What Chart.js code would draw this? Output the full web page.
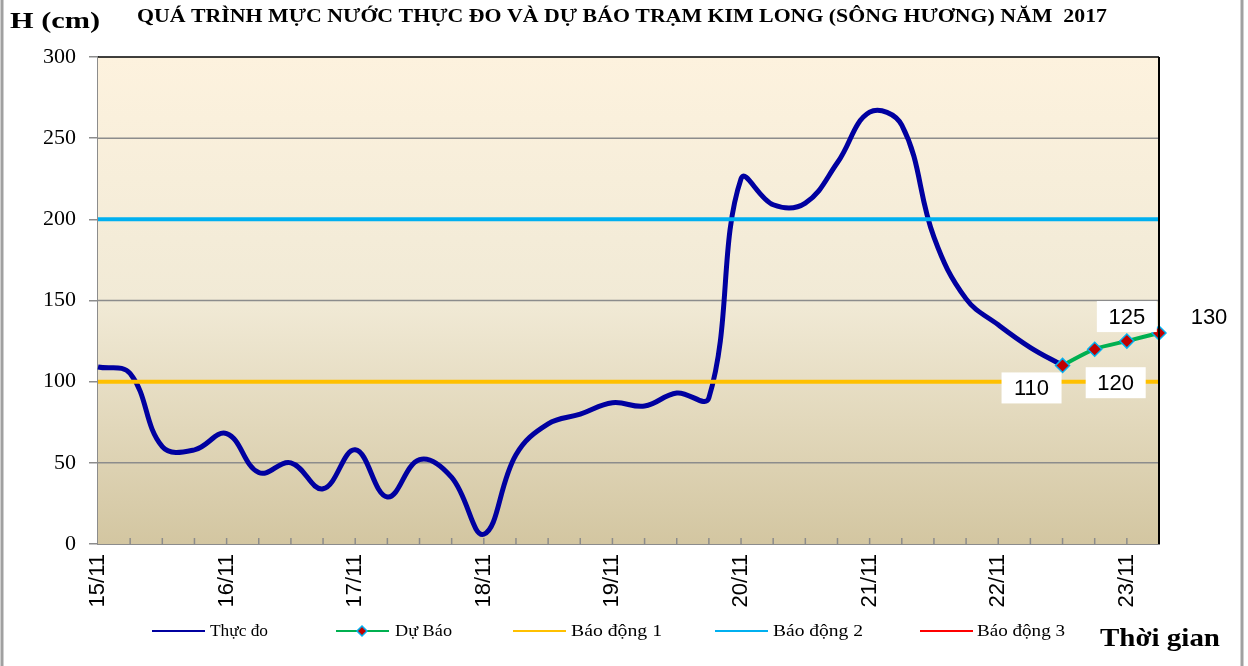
<!DOCTYPE html>
<html>
<head>
<meta charset="utf-8">
<script src="https://cdn.jsdelivr.net/npm/chart.js@4.4.1/dist/chart.umd.min.js"></script>
<style>
  html, body { margin: 0; padding: 0; background: #fff; }
  #wrap { width: 1248px; height: 666px; position: relative; }
</style>
</head>
<body>
<div id="wrap"><canvas id="canvas1" width="1248" height="666"></canvas></div>
<script>
// days shown on the time axis, one label every 4 steps (6h each)
let days = ['15/11', '16/11', '17/11', '18/11', '19/11', '20/11', '21/11', '22/11', '23/11'];
let hours = ['00h', '06h', '12h', '18h'];

// measured water level (cm), every 6h from 15/11 00h to 22/11 12h
let thucDo = [109, 105, 60, 58, 68, 44, 50, 34, 58, 29,
              52, 41, 6, 55, 74, 80, 87, 85, 93, 90,
              225, 209, 210, 235, 266, 258, 189, 151, 135, 121,
              110];
// forecast, 22/11 12h -> 23/11 06h
let duBao = [110, 120, 125, 130];
let baoDong1 = 100;
let baoDong2 = 200;

let labels = [];
days.forEach(function(d, i) {
  hours.forEach(function(h, j) {
    if (i < days.length - 1 || j < 2) labels.push(d + ' ' + h);
  });
});

let n = labels.length;
let thucDoData = labels.map(function(l, i) { return i < thucDo.length ? thucDo[i] : null; });
let duBaoStart = thucDo.length - 1;
let duBaoData = labels.map(function(l, i) {
  return (i >= duBaoStart && i - duBaoStart < duBao.length) ? duBao[i - duBaoStart] : null;
});
let bd1Data = labels.map(function() { return baoDong1; });
let bd2Data = labels.map(function() { return baoDong2; });
let bd3Data = labels.map(function() { return null; });

let legendItems = [
  { text: 'Thực đo', color: '#0000A0', x: 152, tx: 210, tw: 58 },
  { text: 'Dự Báo', color: '#00B050', x: 336, tx: 395, tw: 57, marker: true },
  { text: 'Báo động 1', color: '#FFC000', x: 513, tx: 571, tw: 91 },
  { text: 'Báo động 2', color: '#00B0F0', x: 715, tx: 773, tw: 90 },
  { text: 'Báo động 3', color: '#FF0000', x: 920, tx: 977, tw: 88 }
];

// offsets of the forecast value boxes from their points
let labelOffsets = [[-31, 23, true], [21, 34, true], [0, -24, true], [50, -16, false]];

function stretchText(ctx, text, x, y, width, align) {
  let w = ctx.measureText(text).width;
  let s = width / w;
  ctx.save();
  ctx.translate(x, y);
  ctx.scale(s, 1);
  ctx.textAlign = align || 'left';
  ctx.fillText(text, 0, 0);
  ctx.restore();
}

let decor = {
  id: 'decor',
  beforeDatasetsDraw: function(chart) {
    let ctx = chart.ctx, a = chart.chartArea;
    ctx.save();
    let g = ctx.createLinearGradient(0, a.top, 0, a.bottom);
    g.addColorStop(0, '#FDF2DE');
    g.addColorStop(0.5, '#F1EAD6');
    g.addColorStop(1, '#D3C6A1');
    ctx.fillStyle = g;
    ctx.fillRect(a.left, a.top, a.right - a.left, a.bottom - a.top);
    // grid lines redrawn over the fill
    let y = chart.scales.y;
    ctx.strokeStyle = '#8c8c8c';
    ctx.lineWidth = 1.5;
    [50, 150, 250].forEach(function(v) {
      let py = y.getPixelForValue(v);
      ctx.beginPath(); ctx.moveTo(a.left, py); ctx.lineTo(a.right, py); ctx.stroke();
    });
    ctx.restore();
  },
  afterDatasetsDraw: function(chart) {
    let ctx = chart.ctx, a = chart.chartArea;
    let xs = chart.scales.x;
    ctx.save();
    // inward tick marks on the time axis
    ctx.strokeStyle = '#8c8c8c';
    ctx.lineWidth = 1.5;
    for (let i = 1; i < n; i++) {
      let px = xs.getPixelForTick(i);
      ctx.beginPath(); ctx.moveTo(px, a.bottom - 6); ctx.lineTo(px, a.bottom); ctx.stroke();
    }
    // top and right border
    ctx.strokeStyle = '#000';
    ctx.lineWidth = 1.5;
    ctx.beginPath(); ctx.moveTo(a.left, a.top); ctx.lineTo(a.right, a.top); ctx.stroke();
    ctx.lineWidth = 2;
    ctx.beginPath(); ctx.moveTo(a.right, a.top); ctx.lineTo(a.right, a.bottom); ctx.stroke();

    // forecast value labels
    let meta = chart.getDatasetMeta(1);
    ctx.font = '22px "Liberation Sans", Arial, sans-serif';
    ctx.textBaseline = 'middle';
    ctx.textAlign = 'center';
    let k = 0;
    meta.data.forEach(function(pt, i) {
      if (duBaoData[i] === null) return;
      let o = labelOffsets[k++];
      let cx = pt.x + o[0], cy = pt.y + o[1];
      if (o[2]) {
        ctx.fillStyle = '#fff';
        ctx.fillRect(cx - 30, cy - 16, 60, 31);
      }
      ctx.fillStyle = '#000';
      ctx.fillText(String(duBaoData[i]), cx, cy + 1);
    });

    // titles
    ctx.textBaseline = 'middle';
    ctx.font = 'bold 18px "Liberation Serif", "Times New Roman", serif';
    stretchText(ctx, 'QUÁ TRÌNH MỰC NƯỚC THỰC ĐO VÀ DỰ BÁO TRẠM KIM LONG (SÔNG HƯƠNG) NĂM  2017', 137, 17, 970);
    ctx.font = 'bold 24px "Liberation Serif", "Times New Roman", serif';
    stretchText(ctx, 'H (cm)', 10, 22, 90);
    ctx.textBaseline = 'alphabetic';
    ctx.font = 'bold 25px "Liberation Serif", "Times New Roman", serif';
    stretchText(ctx, 'Thời gian', 1100, 646, 120);

    // legend
    ctx.textBaseline = 'middle';
    ctx.font = '16px "Liberation Serif", "Times New Roman", serif';
    legendItems.forEach(function(it) {
      ctx.strokeStyle = it.color;
      ctx.lineWidth = 2;
      ctx.beginPath(); ctx.moveTo(it.x, 631); ctx.lineTo(it.x + 53, 631); ctx.stroke();
      if (it.marker) {
        let mx = it.x + 26;
        ctx.fillStyle = '#C00000';
        ctx.strokeStyle = '#00B0F0';
        ctx.lineWidth = 1.5;
        ctx.beginPath();
        ctx.moveTo(mx, 626); ctx.lineTo(mx + 5, 631); ctx.lineTo(mx, 636); ctx.lineTo(mx - 5, 631);
        ctx.closePath(); ctx.fill(); ctx.stroke();
      }
      ctx.fillStyle = '#000';
      stretchText(ctx, it.text, it.tx, 632, it.tw);
    });

    // outer frame
    ctx.strokeStyle = '#a0a0a0';
    ctx.lineWidth = 3;
    ctx.beginPath(); ctx.moveTo(2, 0); ctx.lineTo(2, 666); ctx.stroke();
    ctx.beginPath(); ctx.moveTo(1242, 0); ctx.lineTo(1242, 666); ctx.stroke();
    ctx.restore();
  }
};

let chart = new Chart(document.getElementById('canvas1'), {
  type: 'line',
  data: {
    labels: labels,
    datasets: [
      {
        label: 'Thực đo',
        data: thucDoData,
        borderColor: '#0000A0',
        borderWidth: 5,
        tension: 0.4,
        pointRadius: 0,
        spanGaps: false,
        order: 3
      },
      {
        label: 'Dự Báo',
        data: duBaoData,
        borderColor: '#00B050',
        borderWidth: 4,
        tension: 0.3,
        pointStyle: 'rectRot',
        pointRadius: 7,
        pointBackgroundColor: '#C00000',
        pointBorderColor: '#00B0F0',
        pointBorderWidth: 1.5,
        order: 2
      },
      {
        label: 'Báo động 1',
        data: bd1Data,
        borderColor: '#FFC000',
        borderWidth: 4,
        pointRadius: 0,
        order: 1
      },
      {
        label: 'Báo động 2',
        data: bd2Data,
        borderColor: '#00B0F0',
        borderWidth: 4,
        pointRadius: 0,
        order: 1
      },
      {
        label: 'Báo động 3',
        data: bd3Data,
        borderColor: '#FF0000',
        borderWidth: 2,
        pointRadius: 0,
        order: 1
      }
    ]
  },
  options: {
    responsive: false,
    animation: false,
    events: [],
    layout: { padding: { top: 57, right: 89, left: 0, bottom: 0 } },
    plugins: {
      legend: { display: false },
      tooltip: { enabled: false },
      title: { display: false }
    },
    scales: {
      x: {
        type: 'category',
        offset: false,
        afterFit: function(s) { s.height = 122; },
        grid: { display: true, drawOnChartArea: false, drawTicks: false },
        border: { color: '#8c8c8c', width: 2 },
        ticks: {
          autoSkip: false,
          maxRotation: 90,
          minRotation: 90,
          padding: 10,
          color: '#000',
          font: { family: '"Liberation Sans", Arial, sans-serif', size: 22 },
          callback: function(v, i) { return i % 4 === 0 ? days[i / 4] : ''; }
        }
      },
      y: {
        min: 0,
        max: 300,
        afterFit: function(s) { s.width = 98; },
        grid: { color: 'rgba(0,0,0,0)', tickColor: '#8c8c8c', tickLength: 9, lineWidth: 1.5 },
        border: { color: '#8c8c8c', width: 2 },
        ticks: {
          stepSize: 50,
          padding: 13,
          color: '#000',
          font: { family: '"Liberation Serif", "Times New Roman", serif', size: 22 }
        }
      }
    }
  },
  plugins: [decor]
});
</script>
</body>
</html>
